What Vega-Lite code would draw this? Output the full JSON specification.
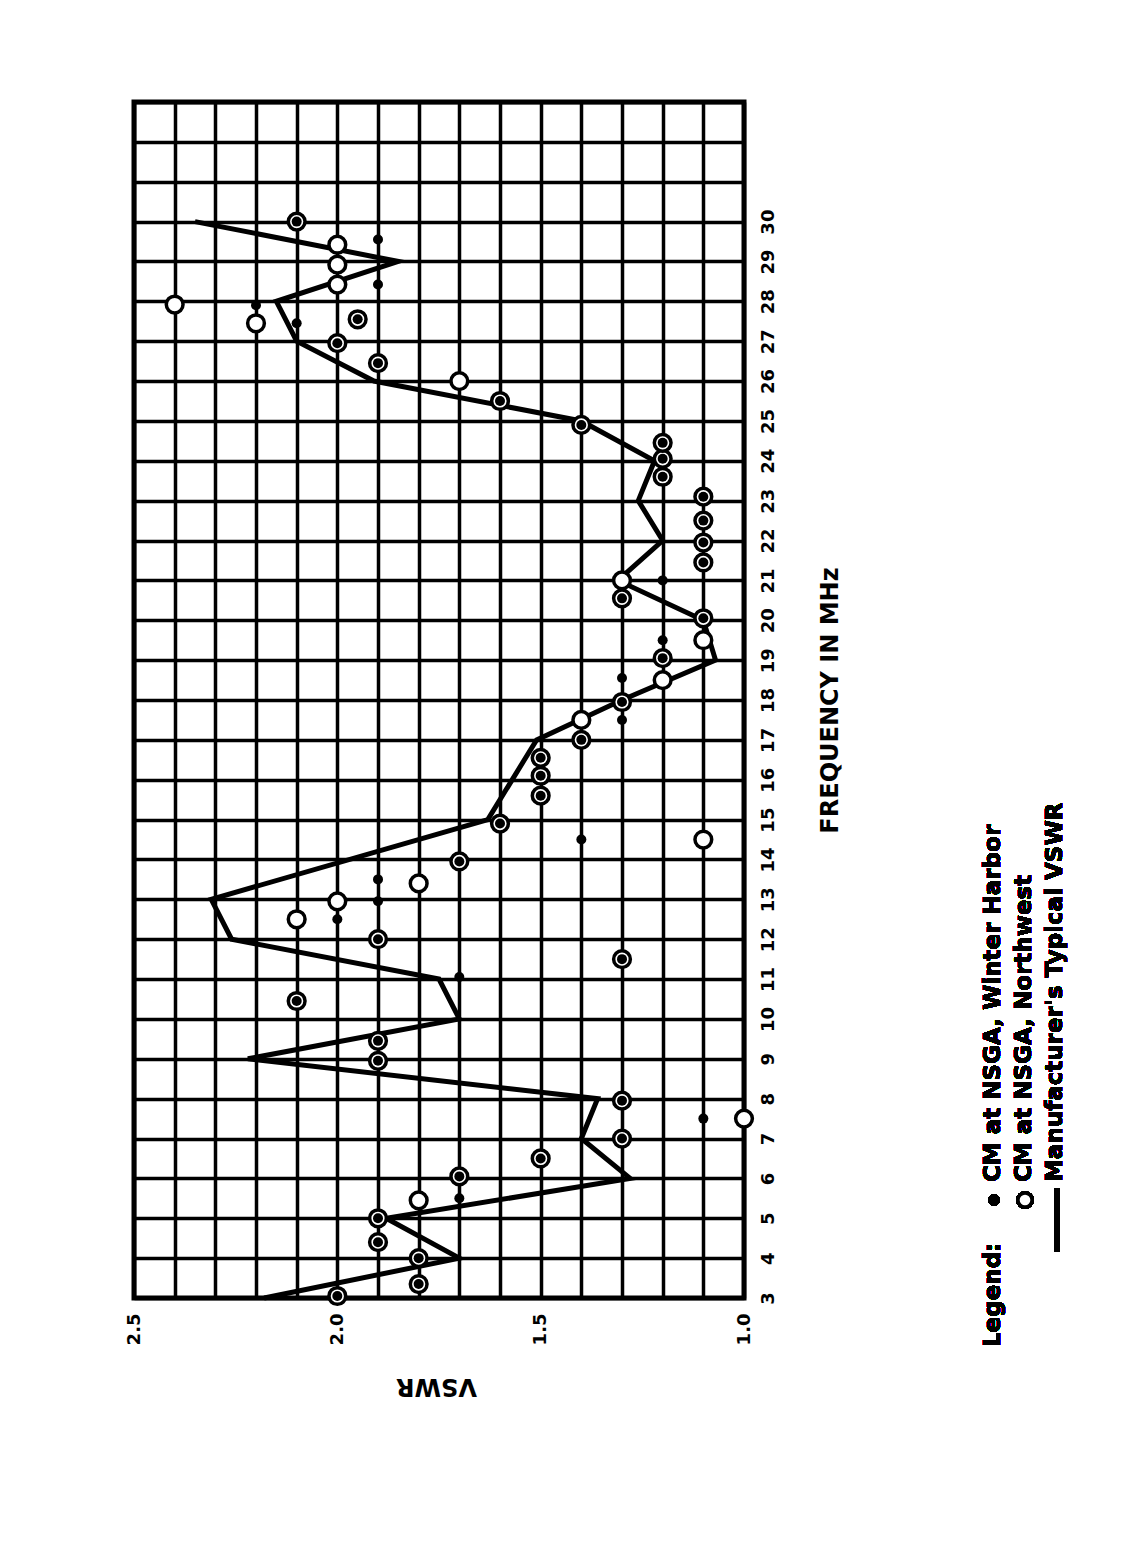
{
  "$schema": "https://vega.github.io/schema/vega-lite/v6.json",
  "width": 610,
  "height": 1196,
  "autosize": {"type": "none"},
  "padding": {"left": 134, "top": 102, "right": 400, "bottom": 260},
  "background": "white",
  "config": {
    "font": "DejaVu Sans",
    "view": {"stroke": "black", "strokeWidth": 5}
  },
  "data": {
    "values": [
      {"series": "typical", "freq": 3, "vswr": 2.18},
      {"series": "typical", "freq": 4, "vswr": 1.70},
      {"series": "typical", "freq": 5, "vswr": 1.88},
      {"series": "typical", "freq": 6, "vswr": 1.28},
      {"series": "typical", "freq": 7, "vswr": 1.40},
      {"series": "typical", "freq": 8, "vswr": 1.36},
      {"series": "typical", "freq": 9, "vswr": 2.22},
      {"series": "typical", "freq": 10, "vswr": 1.70},
      {"series": "typical", "freq": 11, "vswr": 1.75},
      {"series": "typical", "freq": 12, "vswr": 2.26},
      {"series": "typical", "freq": 13, "vswr": 2.31},
      {"series": "typical", "freq": 15, "vswr": 1.63},
      {"series": "typical", "freq": 17, "vswr": 1.51},
      {"series": "typical", "freq": 18, "vswr": 1.30},
      {"series": "typical", "freq": 19, "vswr": 1.07},
      {"series": "typical", "freq": 20, "vswr": 1.10},
      {"series": "typical", "freq": 21, "vswr": 1.31},
      {"series": "typical", "freq": 22, "vswr": 1.20},
      {"series": "typical", "freq": 23, "vswr": 1.26},
      {"series": "typical", "freq": 24, "vswr": 1.22},
      {"series": "typical", "freq": 25, "vswr": 1.40},
      {"series": "typical", "freq": 26, "vswr": 1.91},
      {"series": "typical", "freq": 27, "vswr": 2.10},
      {"series": "typical", "freq": 28, "vswr": 2.15},
      {"series": "typical", "freq": 29, "vswr": 1.85},
      {"series": "typical", "freq": 30, "vswr": 2.35},

      {"series": "northwest", "freq": 3.05, "vswr": 2.0},
      {"series": "northwest", "freq": 3.35, "vswr": 1.8},
      {"series": "northwest", "freq": 4.0, "vswr": 1.8},
      {"series": "northwest", "freq": 4.4, "vswr": 1.9},
      {"series": "northwest", "freq": 5.0, "vswr": 1.9},
      {"series": "northwest", "freq": 5.45, "vswr": 1.8},
      {"series": "northwest", "freq": 6.05, "vswr": 1.7},
      {"series": "northwest", "freq": 6.5, "vswr": 1.5},
      {"series": "northwest", "freq": 7.0, "vswr": 1.3},
      {"series": "northwest", "freq": 7.5, "vswr": 1.0},
      {"series": "northwest", "freq": 7.95, "vswr": 1.3},
      {"series": "northwest", "freq": 8.95, "vswr": 1.9},
      {"series": "northwest", "freq": 9.45, "vswr": 1.9},
      {"series": "northwest", "freq": 10.45, "vswr": 2.1},
      {"series": "northwest", "freq": 11.5, "vswr": 1.3},
      {"series": "northwest", "freq": 12.0, "vswr": 1.9},
      {"series": "northwest", "freq": 12.5, "vswr": 2.1},
      {"series": "northwest", "freq": 12.95, "vswr": 2.0},
      {"series": "northwest", "freq": 13.4, "vswr": 1.8},
      {"series": "northwest", "freq": 13.95, "vswr": 1.7},
      {"series": "northwest", "freq": 14.5, "vswr": 1.1},
      {"series": "northwest", "freq": 14.9, "vswr": 1.6},
      {"series": "northwest", "freq": 15.6, "vswr": 1.5},
      {"series": "northwest", "freq": 16.1, "vswr": 1.5},
      {"series": "northwest", "freq": 16.55, "vswr": 1.5},
      {"series": "northwest", "freq": 17.0, "vswr": 1.4},
      {"series": "northwest", "freq": 17.5, "vswr": 1.4},
      {"series": "northwest", "freq": 17.95, "vswr": 1.3},
      {"series": "northwest", "freq": 18.5, "vswr": 1.2},
      {"series": "northwest", "freq": 19.05, "vswr": 1.2},
      {"series": "northwest", "freq": 19.5, "vswr": 1.1},
      {"series": "northwest", "freq": 20.05, "vswr": 1.1},
      {"series": "northwest", "freq": 20.55, "vswr": 1.3},
      {"series": "northwest", "freq": 21.0, "vswr": 1.3},
      {"series": "northwest", "freq": 21.45, "vswr": 1.1},
      {"series": "northwest", "freq": 21.95, "vswr": 1.1},
      {"series": "northwest", "freq": 22.5, "vswr": 1.1},
      {"series": "northwest", "freq": 23.1, "vswr": 1.1},
      {"series": "northwest", "freq": 23.6, "vswr": 1.2},
      {"series": "northwest", "freq": 24.05, "vswr": 1.2},
      {"series": "northwest", "freq": 24.45, "vswr": 1.2},
      {"series": "northwest", "freq": 24.9, "vswr": 1.4},
      {"series": "northwest", "freq": 25.5, "vswr": 1.6},
      {"series": "northwest", "freq": 26.0, "vswr": 1.7},
      {"series": "northwest", "freq": 26.45, "vswr": 1.9},
      {"series": "northwest", "freq": 26.95, "vswr": 2.0},
      {"series": "northwest", "freq": 27.45, "vswr": 2.2},
      {"series": "northwest", "freq": 27.55, "vswr": 1.95},
      {"series": "northwest", "freq": 27.92, "vswr": 2.4},
      {"series": "northwest", "freq": 28.42, "vswr": 2.0},
      {"series": "northwest", "freq": 28.92, "vswr": 2.0},
      {"series": "northwest", "freq": 29.42, "vswr": 2.0},
      {"series": "northwest", "freq": 30.0, "vswr": 2.1},

      {"series": "winter_harbor", "freq": 3.05, "vswr": 2.0},
      {"series": "winter_harbor", "freq": 3.35, "vswr": 1.8},
      {"series": "winter_harbor", "freq": 4.0, "vswr": 1.8},
      {"series": "winter_harbor", "freq": 4.4, "vswr": 1.9},
      {"series": "winter_harbor", "freq": 5.0, "vswr": 1.9},
      {"series": "winter_harbor", "freq": 5.5, "vswr": 1.7},
      {"series": "winter_harbor", "freq": 6.05, "vswr": 1.7},
      {"series": "winter_harbor", "freq": 6.5, "vswr": 1.5},
      {"series": "winter_harbor", "freq": 7.0, "vswr": 1.3},
      {"series": "winter_harbor", "freq": 7.5, "vswr": 1.1},
      {"series": "winter_harbor", "freq": 7.95, "vswr": 1.3},
      {"series": "winter_harbor", "freq": 8.95, "vswr": 1.9},
      {"series": "winter_harbor", "freq": 9.45, "vswr": 1.9},
      {"series": "winter_harbor", "freq": 10.45, "vswr": 2.1},
      {"series": "winter_harbor", "freq": 11.05, "vswr": 1.7},
      {"series": "winter_harbor", "freq": 11.5, "vswr": 1.3},
      {"series": "winter_harbor", "freq": 12.0, "vswr": 1.9},
      {"series": "winter_harbor", "freq": 12.5, "vswr": 2.0},
      {"series": "winter_harbor", "freq": 12.95, "vswr": 1.9},
      {"series": "winter_harbor", "freq": 13.5, "vswr": 1.9},
      {"series": "winter_harbor", "freq": 13.95, "vswr": 1.7},
      {"series": "winter_harbor", "freq": 14.5, "vswr": 1.4},
      {"series": "winter_harbor", "freq": 14.9, "vswr": 1.6},
      {"series": "winter_harbor", "freq": 15.6, "vswr": 1.5},
      {"series": "winter_harbor", "freq": 16.1, "vswr": 1.5},
      {"series": "winter_harbor", "freq": 16.55, "vswr": 1.5},
      {"series": "winter_harbor", "freq": 17.0, "vswr": 1.4},
      {"series": "winter_harbor", "freq": 17.5, "vswr": 1.3},
      {"series": "winter_harbor", "freq": 17.95, "vswr": 1.3},
      {"series": "winter_harbor", "freq": 18.55, "vswr": 1.3},
      {"series": "winter_harbor", "freq": 19.05, "vswr": 1.2},
      {"series": "winter_harbor", "freq": 19.5, "vswr": 1.2},
      {"series": "winter_harbor", "freq": 20.05, "vswr": 1.1},
      {"series": "winter_harbor", "freq": 20.55, "vswr": 1.3},
      {"series": "winter_harbor", "freq": 21.0, "vswr": 1.2},
      {"series": "winter_harbor", "freq": 21.45, "vswr": 1.1},
      {"series": "winter_harbor", "freq": 21.95, "vswr": 1.1},
      {"series": "winter_harbor", "freq": 22.5, "vswr": 1.1},
      {"series": "winter_harbor", "freq": 23.1, "vswr": 1.1},
      {"series": "winter_harbor", "freq": 23.6, "vswr": 1.2},
      {"series": "winter_harbor", "freq": 24.05, "vswr": 1.2},
      {"series": "winter_harbor", "freq": 24.45, "vswr": 1.2},
      {"series": "winter_harbor", "freq": 24.9, "vswr": 1.4},
      {"series": "winter_harbor", "freq": 25.5, "vswr": 1.6},
      {"series": "winter_harbor", "freq": 26.45, "vswr": 1.9},
      {"series": "winter_harbor", "freq": 26.95, "vswr": 2.0},
      {"series": "winter_harbor", "freq": 27.45, "vswr": 2.1},
      {"series": "winter_harbor", "freq": 27.55, "vswr": 1.95},
      {"series": "winter_harbor", "freq": 27.9, "vswr": 2.2},
      {"series": "winter_harbor", "freq": 28.42, "vswr": 1.9},
      {"series": "winter_harbor", "freq": 29.55, "vswr": 1.9},
      {"series": "winter_harbor", "freq": 30.0, "vswr": 2.1}
    ]
  },
  "encoding": {
    "x": {
      "field": "vswr",
      "type": "quantitative",
      "scale": {"domain": [1, 2.5], "reverse": true, "nice": false, "zero": false},
      "axis": {
        "orient": "bottom",
        "values": [1, 1.1, 1.2, 1.3, 1.4, 1.5, 1.6, 1.7, 1.8, 1.9, 2, 2.1, 2.2, 2.3, 2.4, 2.5],
        "labelExpr": "abs(datum.value * 2 - round(datum.value * 2)) < 0.01 ? format(datum.value, '.1f') : ''",
        "labelAngle": -90,
        "labelAlign": "right",
        "labelBaseline": "middle",
        "labelFont": "DejaVu Sans",
        "labelFontWeight": "bold",
        "labelFontSize": 18,
        "labelColor": "black",
        "labelPadding": 15,
        "labelOverlap": false,
        "labelFlush": false,
        "labelBound": false,
        "ticks": false,
        "tickSize": 0,
        "domain": false,
        "grid": true,
        "gridColor": "black",
        "gridWidth": 3.5,
        "gridOpacity": 1,
        "title": "VSWR",
        "titleAngle": 180,
        "titleAlign": "center",
        "titleBaseline": "alphabetic",
        "titleFont": "DejaVu Sans",
        "titleFontWeight": "bold",
        "titleFontSize": 24,
        "titleColor": "black",
        "titleX": 302,
        "titleY": 80
      }
    },
    "y": {
      "field": "freq",
      "type": "quantitative",
      "scale": {"domain": [3, 33], "nice": false, "zero": false},
      "axis": {
        "orient": "right",
        "values": [3, 4, 5, 6, 7, 8, 9, 10, 11, 12, 13, 14, 15, 16, 17, 18, 19, 20, 21, 22, 23, 24, 25, 26, 27, 28, 29, 30, 31, 32, 33],
        "labelExpr": "datum.value <= 30 ? datum.label : ''",
        "labelAngle": -90,
        "labelAlign": "center",
        "labelBaseline": "top",
        "labelFont": "DejaVu Sans",
        "labelFontWeight": "bold",
        "labelFontSize": 18,
        "labelColor": "black",
        "labelPadding": 15,
        "labelOverlap": false,
        "labelFlush": false,
        "labelBound": false,
        "ticks": false,
        "tickSize": 0,
        "domain": false,
        "grid": true,
        "gridColor": "black",
        "gridWidth": 3.5,
        "gridOpacity": 1,
        "title": "FREQUENCY IN MHz",
        "titleAngle": -90,
        "titleAlign": "center",
        "titleBaseline": "alphabetic",
        "titleFont": "DejaVu Sans",
        "titleFontWeight": "bold",
        "titleFontSize": 24,
        "titleColor": "black",
        "titleX": 93,
        "titleY": 598
      }
    }
  },
  "layer": [
    {
      "transform": [{"filter": "datum.series === 'typical'"}],
      "mark": {"type": "line", "color": "black", "strokeWidth": 5, "strokeJoin": "miter", "strokeMiterLimit": 6},
      "encoding": {"order": {"field": "freq", "type": "quantitative"}}
    },
    {
      "transform": [{"filter": "datum.series === 'northwest'"}],
      "mark": {"type": "point", "shape": "circle", "filled": false, "fill": "white", "fillOpacity": 1, "stroke": "black", "strokeWidth": 3.5, "size": 280, "opacity": 1}
    },
    {
      "transform": [{"filter": "datum.series === 'winter_harbor'"}],
      "mark": {"type": "point", "shape": "circle", "filled": true, "color": "black", "size": 100, "opacity": 1}
    },
    {
      "mark": {"type": "text", "text": "Legend:", "angle": -90, "align": "left", "baseline": "alphabetic", "font": "DejaVu Sans", "fontWeight": "bold", "fontSize": 23, "color": "black"},
      "encoding": {
        "x": {"datum": 0.3705, "type": "quantitative"},
        "y": {"datum": 1.77, "type": "quantitative"}
      }
    },
    {
      "mark": {"type": "point", "shape": "circle", "filled": true, "color": "black", "size": 130, "opacity": 1},
      "encoding": {
        "x": {"datum": 0.3853, "type": "quantitative"},
        "y": {"datum": 5.458, "type": "quantitative"}
      }
    },
    {
      "mark": {"type": "point", "shape": "circle", "filled": false, "fill": "white", "stroke": "black", "strokeWidth": 3.5, "size": 200, "opacity": 1},
      "encoding": {
        "x": {"datum": 0.309, "type": "quantitative"},
        "y": {"datum": 5.458, "type": "quantitative"}
      }
    },
    {
      "mark": {"type": "rule", "color": "black", "strokeWidth": 5},
      "encoding": {
        "x": {"datum": 0.2303, "type": "quantitative"},
        "y": {"datum": 5.759, "type": "quantitative"},
        "y2": {"datum": 4.154}
      }
    },
    {
      "mark": {"type": "text", "text": "CM at NSGA, Winter Harbor", "angle": -90, "align": "left", "baseline": "alphabetic", "font": "DejaVu Sans", "fontWeight": "bold", "fontSize": 23, "color": "black"},
      "encoding": {
        "x": {"datum": 0.3705, "type": "quantitative"},
        "y": {"datum": 5.909, "type": "quantitative"}
      }
    },
    {
      "mark": {"type": "text", "text": "CM at NSGA, Northwest", "angle": -90, "align": "left", "baseline": "alphabetic", "font": "DejaVu Sans", "fontWeight": "bold", "fontSize": 23, "color": "black"},
      "encoding": {
        "x": {"datum": 0.2943, "type": "quantitative"},
        "y": {"datum": 5.909, "type": "quantitative"}
      }
    },
    {
      "mark": {"type": "text", "text": "Manufacturer's Typical VSWR", "angle": -90, "align": "left", "baseline": "alphabetic", "font": "DejaVu Sans", "fontWeight": "bold", "fontSize": 23, "color": "black"},
      "encoding": {
        "x": {"datum": 0.2181, "type": "quantitative"},
        "y": {"datum": 5.909, "type": "quantitative"}
      }
    }
  ]
}
